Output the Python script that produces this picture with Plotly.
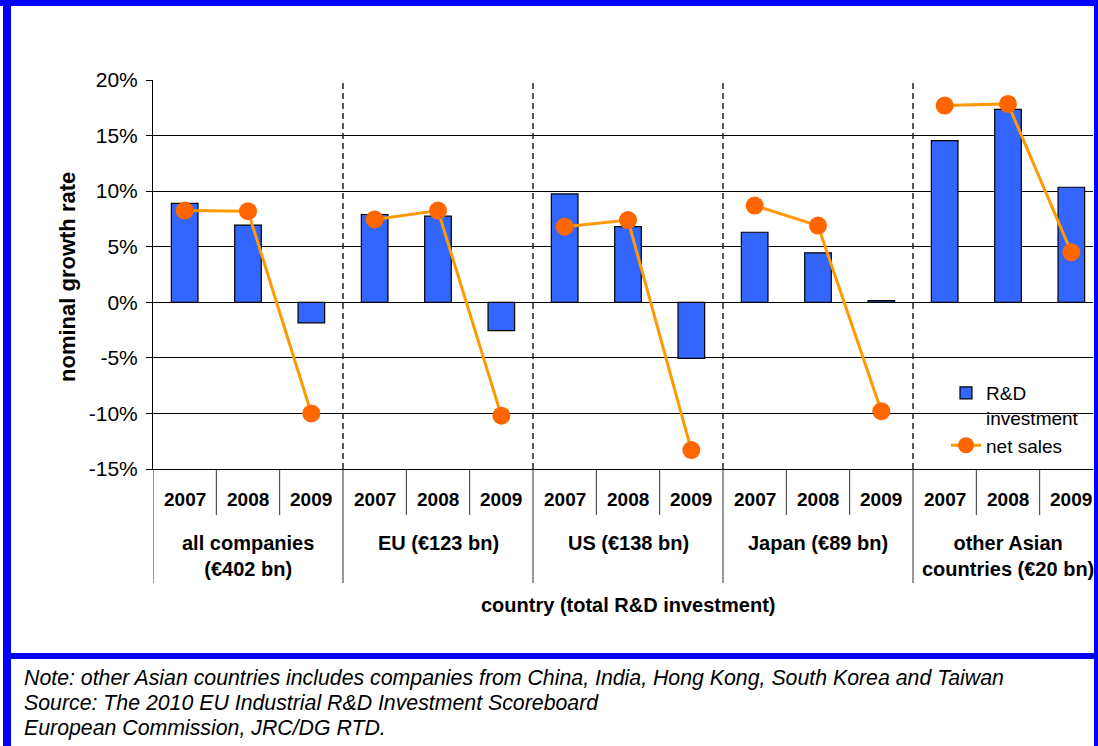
import plotly.graph_objects as go

# ---------------- data ----------------
groups = ["all companies<br>(€402 bn)", "EU (€123 bn)", "US (€138 bn)",
          "Japan (€89 bn)", "other Asian<br>countries (€20 bn)"]
years = ["2007", "2008", "2009"]
rd_investment = [8.9, 6.95, -1.85,
                 7.9, 7.75, -2.55,
                 9.75, 6.8, -5.05,
                 6.3, 4.45, 0.15,
                 14.55, 17.35, 10.35]
net_sales = [8.25, 8.2, -10.0,
             7.45, 8.25, -10.2,
             6.8, 7.4, -13.3,
             8.7, 6.9, -9.8,
             17.7, 17.85, 4.5]
y_ticks = [-15, -10, -5, 0, 5, 10, 15, 20]
y_tick_labels = ["-15%", "-10%", "-5%", "0%", "5%", "10%", "15%", "20%"]
notes = ["Note: other Asian countries includes companies from China, India, Hong Kong, South Korea and Taiwan",
         "Source: The 2010 EU Industrial R&D Investment Scoreboard",
         "European Commission, JRC/DG RTD."]

# ---------------- geometry helpers ----------------
W, H = 1098, 746
PL, PR, PT, PB = 153, 1093, 80, 469   # plot area in pixels


def px2x(px):
    return (px - PL) / (PR - PL)


def py2y(py):
    return (PB - py) / (PB - PT)


FONT = "Liberation Sans, Arial, sans-serif"
n = len(rd_investment)
xs = list(range(n))

# net sales with gaps between groups
sx, sy = [], []
for g in range(len(groups)):
    for k in range(3):
        sx.append(g * 3 + k)
        sy.append(net_sales[g * 3 + k])
    sx.append(None)
    sy.append(None)

fig = go.Figure()
fig.add_trace(go.Bar(
    x=xs, y=rd_investment, width=0.42,
    marker=dict(color="#3366FF", line=dict(color="black", width=1.2)),
    name="R&D<br>investment"))
fig.add_trace(go.Scatter(
    x=sx, y=sy, mode="lines+markers", connectgaps=False,
    line=dict(color="#FF9900", width=3),
    marker=dict(color="#FF6600", size=18, line=dict(width=0)),
    name="net sales"))

shapes = []
# white box behind legend (covers gridlines)
shapes.append(dict(type="rect", xref="paper", yref="y", x0=px2x(920), x1=1.0,
                   y0=-13.6, y1=-5.6, fillcolor="white", line=dict(width=0),
                   layer="below"))
# dashed group dividers
for g in range(1, len(groups)):
    xb = g * 3 - 0.5
    shapes.append(dict(type="line", xref="x", yref="y", x0=xb, x1=xb, y0=-15, y1=20,
                       line=dict(color="#222", width=1.5, dash="6px,4px")))
# category table separators under the axis
for i in range(n + 1):
    xb = i - 0.5
    if i % 3 == 0:
        y0 = py2y(583)
    else:
        y0 = py2y(515)
    shapes.append(dict(type="line", xref="x", yref="paper", x0=xb, x1=xb, y0=y0, y1=0,
                       line=dict(color="#333", width=1)))
# blue frame
BLUE = "#0000FF"
for (x0, y0, x1, y1) in [(0, 0, W, 6), (3, 0, 11, H), (1094, 0, W, H), (3, 653, W, 659)]:
    shapes.append(dict(type="rect", xref="paper", yref="paper",
                       x0=px2x(x0), x1=px2x(x1), y0=py2y(y1), y1=py2y(y0),
                       fillcolor=BLUE, line=dict(width=0), layer="above"))

annotations = []
for i in range(n):
    annotations.append(dict(x=i, y=py2y(499), xref="x", yref="paper", text=years[i % 3],
                            showarrow=False, yanchor="middle",
                            font=dict(family=FONT, size=19, color="black", weight="bold")))
for g, lab in enumerate(groups):
    annotations.append(dict(x=g * 3 + 1, y=py2y(530), xref="x", yref="paper", text=lab,
                            showarrow=False, yanchor="top", align="center",
                            font=dict(family=FONT, size=20, color="black", weight="bold")))
annotations.append(dict(x=7, y=py2y(605), xref="x", yref="paper",
                        text="country (total R&D investment)", showarrow=False,
                        yanchor="middle",
                        font=dict(family=FONT, size=20, color="black", weight="bold")))
annotations.append(dict(x=px2x(67), y=py2y(277), xref="paper", yref="paper",
                        text="nominal growth rate", textangle=-90, showarrow=False,
                        xanchor="center", yanchor="middle",
                        font=dict(family=FONT, size=22, color="black", weight="bold")))
for j, t in enumerate(notes):
    annotations.append(dict(x=px2x(22), y=py2y(678 + 25 * j), xref="paper", yref="paper",
                            text=t, showarrow=False, xanchor="left", yanchor="middle",
                            font=dict(family=FONT, size=21.3, color="black", style="italic")))

fig.update_layout(
    width=W, height=H,
    margin=dict(l=PL, r=W - PR, t=PT, b=H - PB, pad=0),
    paper_bgcolor="white", plot_bgcolor="white",
    font=dict(family=FONT, color="black"),
    showlegend=True,
    legend=dict(x=px2x(946), y=py2y(374), xanchor="left", yanchor="top",
                bgcolor="rgba(0,0,0,0)", font=dict(family=FONT, size=19, color="black"),
                valign="top", tracegroupgap=0, traceorder="normal"),
    shapes=shapes, annotations=annotations,
    bargap=0.58,
)
fig.update_xaxes(range=[-0.5, (PR - PL) / ((1103 - PL) / 15) - 0.5],
                 showticklabels=False, ticks="", showgrid=False, zeroline=False,
                 showline=True, linecolor="black", linewidth=1)
fig.update_yaxes(range=[-15, 20], tickvals=y_ticks, ticktext=y_tick_labels,
                 tickfont=dict(family=FONT, size=21, color="black"),
                 ticklabelstandoff=4,
                 showgrid=True, gridcolor="black", gridwidth=1,
                 zeroline=True, zerolinecolor="black", zerolinewidth=1,
                 showline=True, linecolor="black", linewidth=1,
                 ticks="outside", ticklen=6, tickcolor="black")

fig.write_html("out.html", config={"displayModeBar": False},
               post_script="document.body.style.margin='0';")
